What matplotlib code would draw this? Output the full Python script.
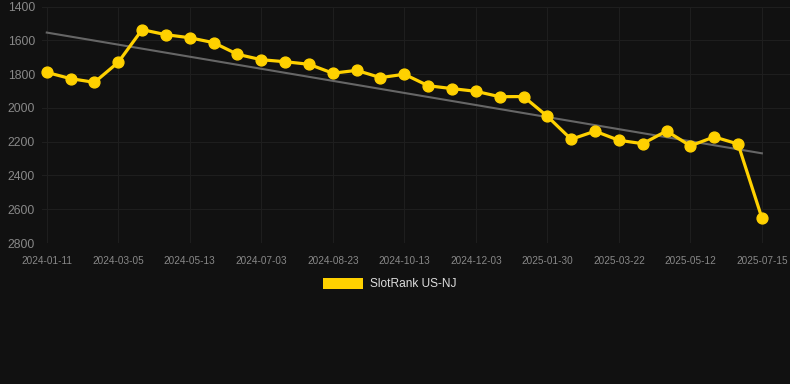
import matplotlib
matplotlib.use("Agg")
import matplotlib.pyplot as plt
import matplotlib.patches as mpatches
import numpy as np

plt.rcParams["font.family"] = ["Liberation Sans", "DejaVu Sans"]

# rank per observation (lower is better, axis inverted)
ranks = [1790, 1827, 1849, 1730, 1537, 1567, 1585, 1614, 1683, 1715, 1727,
         1742, 1795, 1778, 1821, 1801, 1869, 1886, 1902, 1934, 1933, 2050,
         2186, 2138, 2192, 2212, 2137, 2225, 2172, 2214, 2651]
tick_labels = ["2024-01-11", "2024-03-05", "2024-05-13", "2024-07-03",
               "2024-08-23", "2024-10-13", "2024-12-03", "2025-01-30",
               "2025-03-22", "2025-05-12", "2025-07-15"]
y_ticks = [1400, 1600, 1800, 2000, 2200, 2400, 2600, 2800]

bg = "#111111"
yellow = "#FFD100"
x = np.arange(len(ranks))

fig = plt.figure(figsize=(7.9, 3.84), dpi=100, facecolor=bg)
ax = fig.add_axes([42 / 790, 1 - 243 / 384, 748 / 790, (243 - 6.5) / 384])
ax.set_facecolor(bg)

# linear trend
k, b = np.polyfit(x, ranks, 1)
ax.plot(x, k * x + b, color="#666666", linewidth=1.5, zorder=2)

ax.plot(x, ranks, color=yellow, linewidth=2.3, marker="o", markersize=7.8,
        zorder=3, clip_on=False)

ax.set_xlim(-0.2, 31.18)
ax.set_ylim(2800, 1400)
ax.set_yticks(y_ticks)
ax.set_xticks(x[::3])
ax.set_xticklabels(tick_labels)
ax.grid(True, color="#1e1e1e", linewidth=0.8)
ax.set_axisbelow(True)
for s in ax.spines.values():
    s.set_visible(False)
ax.tick_params(axis="y", length=0, pad=5, labelsize=8.8, labelcolor="#888888")
ax.tick_params(axis="x", length=0, pad=9, labelsize=7.2, labelcolor="#888888")

# legend below the chart
patch = mpatches.Rectangle((323 / 790, 1 - 289 / 384), 40 / 790, 11 / 384,
                           transform=fig.transFigure, facecolor=yellow,
                           edgecolor="none")
fig.patches.append(patch)
fig.text(370 / 790, 1 - 284 / 384, "SlotRank US-NJ", color="#dddddd",
         fontsize=8.6, va="center", ha="left")

fig.savefig("out.png", dpi=100, facecolor=bg)
